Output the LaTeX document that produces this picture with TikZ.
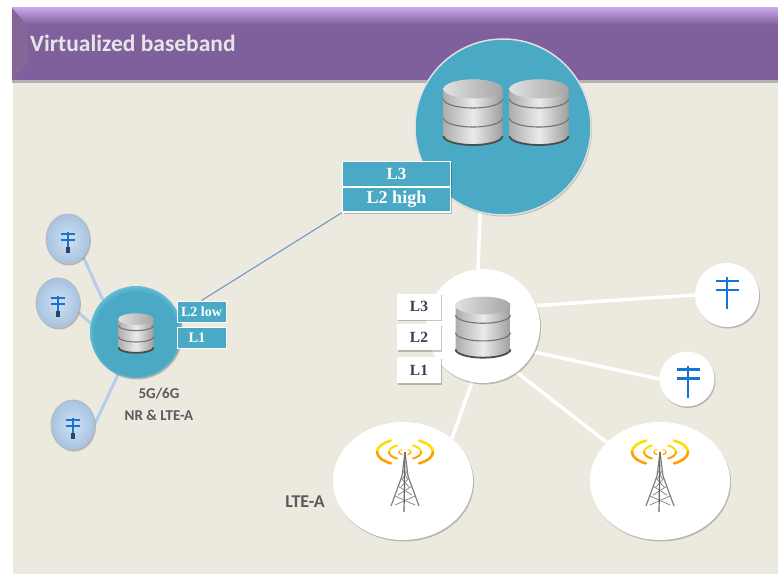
\documentclass[tikz,border=0pt]{standalone}
\usepackage{fontspec}
\setmainfont{Carlito}
\newfontfamily\boxfont{Liberation Serif}
\usetikzlibrary{backgrounds, shadows, shapes.geometric}

\definecolor{panel}{HTML}{ECE9DF}
\definecolor{band}{HTML}{7F5F9C}
\definecolor{bandtop}{HTML}{C6A6E6}
\definecolor{bevel}{HTML}{866699}
\definecolor{teal}{HTML}{4AAAC6}
\definecolor{rim}{HTML}{8FE6F0}
\definecolor{poleblue}{HTML}{1874D2}
\definecolor{polebase}{HTML}{27466E}
\definecolor{polelink}{HTML}{B5CDE8}
\definecolor{spotin}{HTML}{D2E0F0}
\definecolor{spotout}{HTML}{A6C3E2}
\definecolor{fronthaul}{HTML}{6C93C0}
\definecolor{labelgrey}{HTML}{5A5A5E}
\definecolor{boxtext}{HTML}{3C3C58}

\pgfdeclareradialshading{bigglow}{\pgfpoint{0bp}{-3bp}}{color(0bp)=(teal); color(25.5bp)=(teal); color(28.5bp)=(rim)}
\pgfdeclareradialshading{smallglow}{\pgfpoint{0bp}{-4bp}}{color(0bp)=(teal); color(23bp)=(teal); color(30bp)=(rim)}

\tikzset{
    softshadow/.style = {drop shadow = {shadow xshift = 1pt, shadow yshift = -1.5pt, fill = black, opacity = 0.22}},
    hub/.style = {circle, inner sep = 0, softshadow},
    whitespot/.style = {hub, fill = white},
    towerspot/.style = {ellipse, inner sep = 0, fill = white, softshadow, minimum width = 140, minimum height = 118},
    bluespot/.style = {ellipse, inner sep = 0, draw = gray!55, line width = 0.8pt, inner color = spotin, outer color = spotout, minimum width = 44, minimum height = 50, softshadow},
    tealbox/.style = {draw = white, line width = 1.5pt, fill = teal, text = white, font = \boxfont\bfseries, inner sep = 0},
    whitebox/.style = {fill = white, text = boxtext, font = \boxfont\bfseries\fontsize{15.5}{15.5}\selectfont, inner sep = 0, minimum width = 44, minimum height = 26, softshadow},
    whitelink/.style = {draw = white, line width = 3.5pt},
    bluelink/.style = {draw = polelink, line width = 3pt},
    greytext/.style = {text = labelgrey, font = \bfseries\fontsize{15}{15}\selectfont, inner sep = 0},
    database/.pic = {
        \shade[left color = black!32, right color = black!38, middle color = black!8] (-29.5, 23) -- (-29.5, -24) arc[start angle = 180, end angle = 360, x radius = 29.5, y radius = 9] -- (29.5, 23) arc[start angle = 0, end angle = 180, x radius = 29.5, y radius = 9.5] -- cycle;
        \shade[left color = black!12, right color = black!35] (0, 23) ellipse (29.5 and 9.5);
        \foreach \y in {13, -6} {
            \draw[black!55, line width = 1.1pt] (-29.5, \y) arc[start angle = 180, end angle = 360, x radius = 29.5, y radius = 9];
        }
        \draw[black!70, line width = 1.8pt] (-29.5, -24) arc[start angle = 180, end angle = 360, x radius = 29.5, y radius = 9];
    },
    pole/.pic = {
        \draw[poleblue] (0, 16) -- (0, -16);
        \foreach \y in {12, 3} {
            \draw[poleblue] (-11.5, \y) -- (11.5, \y);
        }
    },
    tower/.pic = {
        \foreach \s in {1, -1} {
            \begin{scope}[xscale = \s]
                \draw[black!50, line width = 1.2pt] (0, 0) -- (3, -24) -- (14, -54);
                \foreach \y/\x in {-18/2.5, -26/4, -34/7, -44/10} {
                    \draw[black!45, line width = 0.8pt] (-\x, \y) -- (\x, \y - 9);
                }
                \foreach \r/\w in {6/1.3, 16/2, 28/2.6} {
                    \draw[yellow!80!orange, line width = \w pt, line cap = round] (120:\r pt and 0.47*\r pt) arc[start angle = 120, end angle = 180, x radius = \r pt, y radius = 0.47*\r pt];
                    \draw[orange!75!yellow, line width = \w pt, line cap = round] (180:\r pt and 0.47*\r pt) arc[start angle = 180, end angle = 240, x radius = \r pt, y radius = 0.47*\r pt];
                }
            \end{scope}
        }
        \draw[black!60, line width = 1.2pt] (0, 0) -- (-1, -60);
    }
}

\begin{document}
\begin{tikzpicture}[x = 1pt, y = 1pt]
    \useasboundingbox (0, 0) rectangle (778, 574);

    \node[hub, shading = bigglow, draw = black!12, line width = 1.5pt, minimum size = 176] (big) at (503, 447) {};
    \node[hub, shading = smallglow, minimum size = 92] (site) at (136, 242) {};
    \node[whitespot, minimum size = 114] (core) at (483, 248) {};

    \node[tealbox, minimum width = 108, minimum height = 25, font = \boxfont\bfseries\fontsize{17}{17}\selectfont, softshadow] (lthree) at (396.5, 400) {L3};
    \node[tealbox, minimum width = 108, minimum height = 25, font = \boxfont\bfseries\fontsize{18}{18}\selectfont, softshadow] (ltwohigh) at (396.5, 374.5) {L2 high};
    \node[tealbox, line width = 1pt, minimum width = 49, minimum height = 21, font = \boxfont\bfseries\fontsize{14}{14}\selectfont] (ltwolow) at (201.5, 262.5) {L2 low};
    \node[tealbox, line width = 1pt, minimum width = 49, minimum height = 21, font = \boxfont\bfseries\fontsize{14.5}{14.5}\selectfont] (lone) at (201.5, 236.5) {L1\hspace*{9pt}};

    \node[whitebox] (corethree) at (419, 267.5) {L3};
    \node[whitebox] (coretwo) at (419, 237) {L2};
    \node[whitebox] (coreone) at (419, 204) {L1};

    \node[whitespot, minimum size = 64] (poleA) at (727, 279) {};
    \node[whitespot, minimum size = 55] (poleB) at (687, 195) {};
    \node[towerspot] (towerA) at (403, 93) {};
    \node[towerspot] (towerB) at (660, 93) {};

    \node[bluespot] (siteA) at (68, 335) {};
    \node[bluespot] (siteB) at (58, 271) {};
    \node[bluespot] (siteC) at (73, 149) {};

    \pic at (473, 462) {database};
    \pic at (539, 462) {database};
    \pic[scale = 0.93] at (483, 247) {database};
    \pic[scale = 0.6] at (136, 241) {database};

    \pic[line width = 2.2pt] at (727, 281) {pole};
    \pic[line width = 2.2pt] at (688, 192.5) {pole};
    \foreach \n in {siteA, siteB, siteC} {
        \pic[scale = 0.65, line width = 1.5pt] at ([yshift = -3pt]\n.center) {pole};
        \fill[polebase] ([xshift = -1.6pt, yshift = -14pt]\n.center) rectangle ([xshift = 1.6pt, yshift = -8pt]\n.center);
    }

    \pic at (405, 122) {tower};
    \pic at (660, 122) {tower};

    \node[right, inner sep = 0, text = white!90!black, font = \bfseries\fontsize{23.5}{23.5}\selectfont] (title) at (30, 531) {Virtualized baseband};
    \node[greytext] (fivesix) at (159, 180) {5G/6G};
    \node[greytext] (nrlte) at (159, 159) {NR \& LTE-A};
    \node[greytext, font = \bfseries\fontsize{18}{18}\selectfont] (lte) at (305, 72) {LTE-A};

    \begin{scope}[on background layer]
        \fill[panel] (13, 0) rectangle (778, 494);
        \fill[black!30] (12, 491) rectangle (778, 494);
        \fill[band] (12, 494) rectangle (778, 566);
        \shade[top color = bandtop, bottom color = band] (12, 549) rectangle (778, 566);
        \fill[bevel] (12, 494) -- (12, 566) -- (28, 548) -- (28, 510) -- cycle;

        \draw[whitelink] (big.255) -- (core.95);
        \draw[whitelink] (core.21) -- (poleA.west);
        \draw[whitelink] (core.333) -- (poleB.west);
        \draw[whitelink] (core.259) -- (towerA.41);
        \draw[whitelink] (core.306) -- (towerB.144);

        \draw[bluelink] (siteA.310) -- (site.136);
        \draw[bluelink] (siteB.335) -- (site.169);
        \draw[bluelink] (siteC.5) -- (site.247);

        \draw[fronthaul, line width = 1pt] (ltwohigh.south west) -- (ltwolow.north);
    \end{scope}
\end{tikzpicture}
\end{document}
